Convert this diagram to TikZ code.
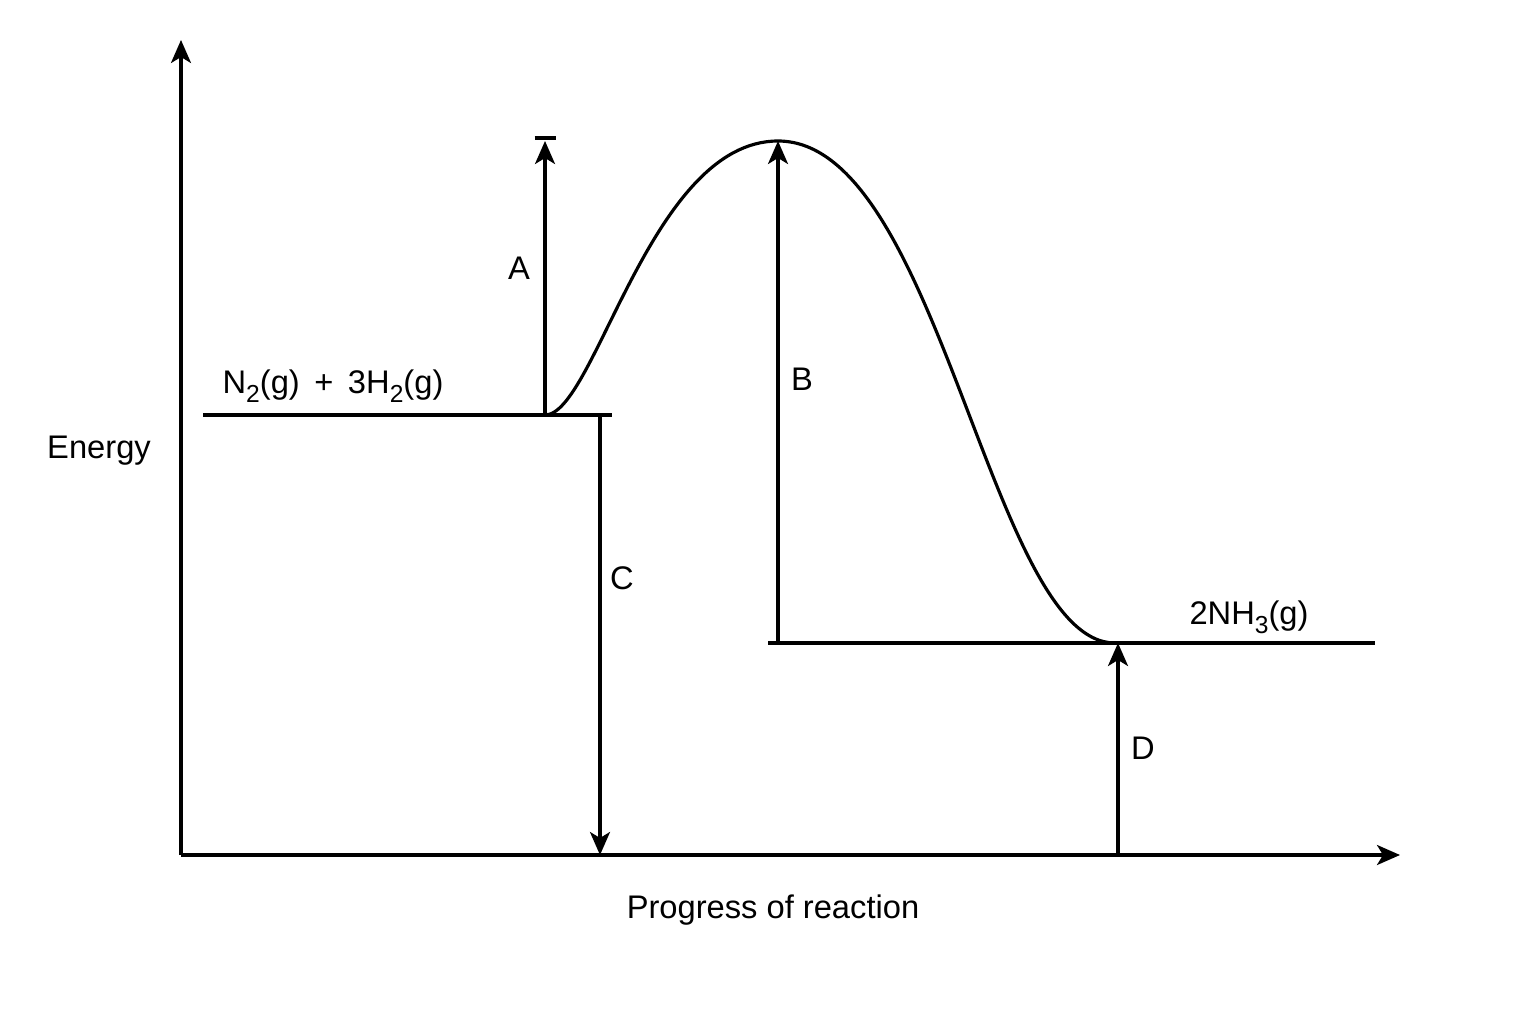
\documentclass[tikz,border=0pt]{standalone}
\usepackage{fontspec}
\setmainfont{Liberation Sans}
\usetikzlibrary{arrows.meta,positioning}
\newcommand{\chsub}[1]{\raisebox{-0.5ex}{\fontsize{7}{8}\selectfont #1}}

\begin{document}
\begin{tikzpicture}[>={Stealth[length=2.3mm,width=2mm,inset=0.6mm]},line width=0.9pt,
font=\fontsize{9.3}{11}\selectfont]
\tikzstyle{every node}=[inner sep=0pt, text=black]
\tikzstyle{level}=[line width=0.9pt]
\useasboundingbox (0,0) rectangle (15.36,10.24);

% axes
\coordinate (O)    at (1.81,1.69);
\coordinate (Ytop) at (1.81,9.84);
\coordinate (Xend) at (14.00,1.69);

% energy levels and curve
\coordinate (R1)   at (2.03,6.09);
\coordinate (R2)   at (6.12,6.09);
\coordinate (Rs)   at (5.45,6.09);
\coordinate (Pk)   at (7.78,8.83);
\coordinate (P1)   at (7.68,3.81);
\coordinate (P2)   at (13.75,3.81);
\coordinate (Pe)   at (11.15,3.81);

% arrow ends
\coordinate (Atop) at (5.45,8.83);
\coordinate (Bbot) at (7.78,3.81);
\coordinate (Ctop) at (6.00,6.09);
\coordinate (Cbot) at (6.00,1.69);
\coordinate (Dbot) at (11.18,1.69);
\coordinate (Dtop) at (11.18,3.81);
\coordinate (barL) at (5.345,8.86);
\coordinate (barR) at (5.555,8.86);

\node (energy)   at (0.99,5.73) {Energy};
\node (progress) at (7.73,1.14) {Progress of reaction};
\node (react)    at (3.33,6.38) {N\chsub{2}(g) \,+\, 3H\chsub{2}(g)};
\node (prod)     at (12.49,4.07) {2NH\chsub{3}(g)};
\node (A) at (5.19,7.56) {A};
\node (B) at (8.02,6.45) {B};
\node (C) at (6.22,4.46) {C};
\node (D) at (11.43,2.76) {D};

\draw[->] (O) -- (Ytop);
\draw[->] (O) -- (Xend);

\draw[level] (R1) -- (R2);
\draw[level] (P1) -- (P2);
\draw (Rs) .. controls (5.95,6.09) and (6.5,8.83) .. (Pk)
           .. controls (9.4,8.83) and (9.9,3.81) .. (Pe);

\path[->] (Rs)   edge (Atop)
          (Bbot) edge (Pk)
          (Ctop) edge (Cbot)
          (Dbot) edge (Dtop);
\draw (barL) -- (barR);
\end{tikzpicture}
\end{document}
